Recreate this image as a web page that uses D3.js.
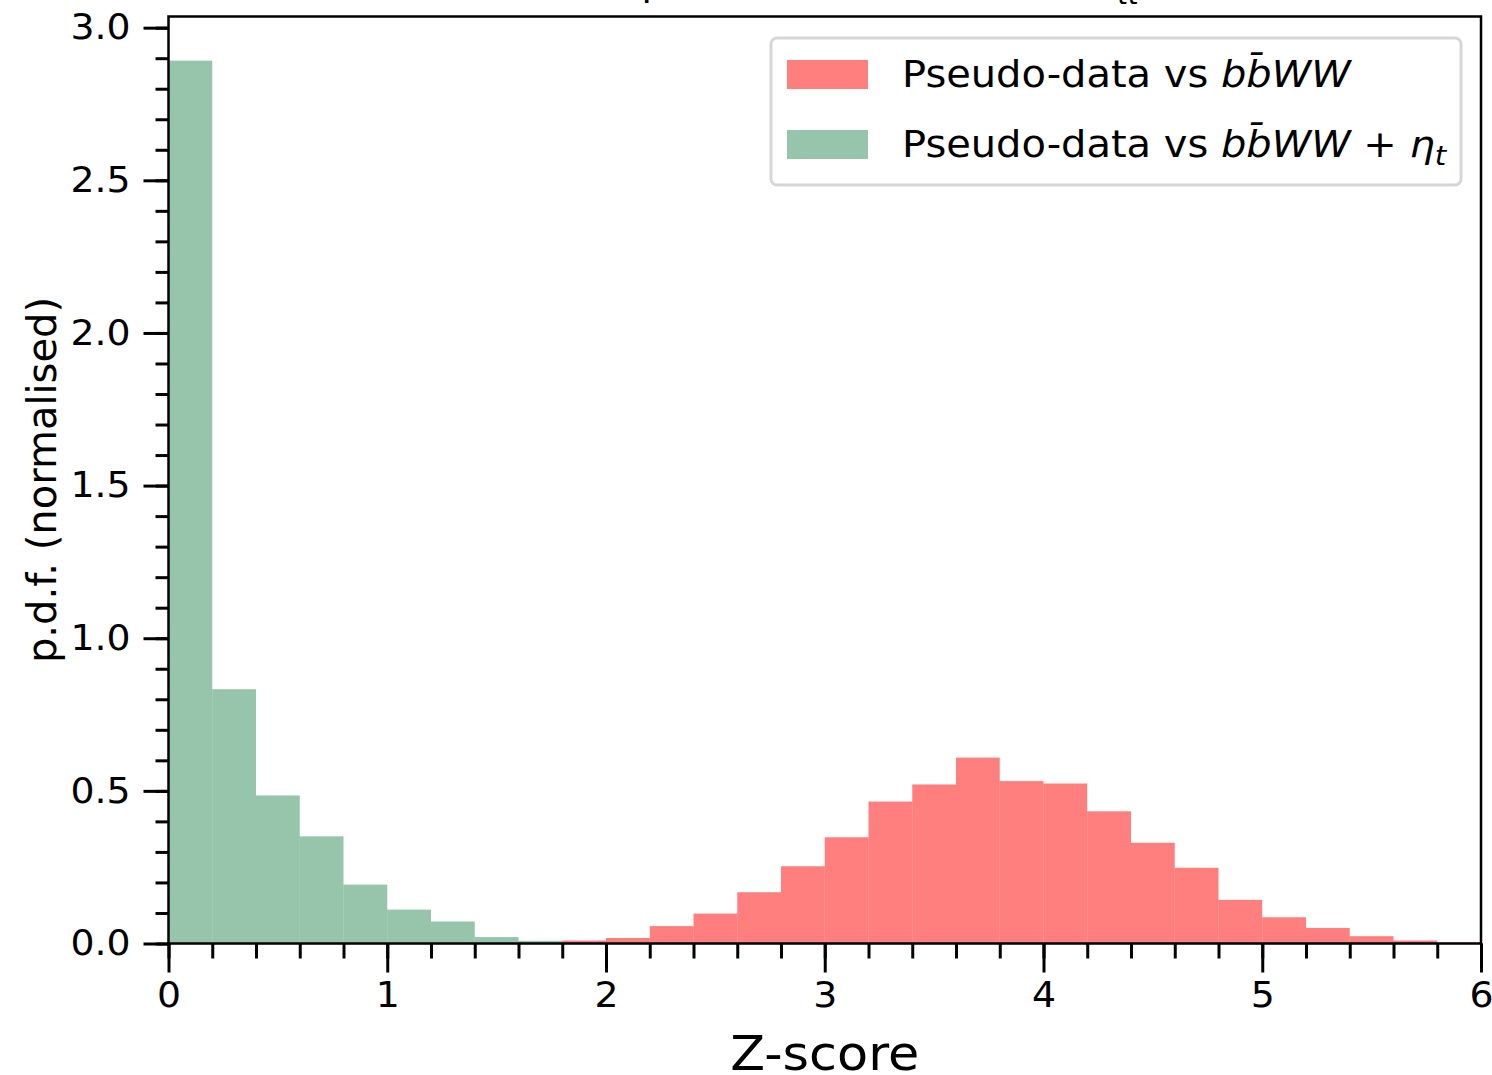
<!DOCTYPE html>
<html>
<head>
<meta charset="utf-8">
<script src="https://cdn.jsdelivr.net/npm/d3@7"></script>
<style>
  body { margin: 0; background: #fff; }
  text { font-family: "DejaVu Sans", sans-serif; fill: #000; }
</style>
</head>
<body>
<div id="okvir"></div>
<script>
// bin edges: 0 .. 6 step 0.2
const binStarts = [0, 0.2, 0.4, 0.6, 0.8, 1.0, 1.2, 1.4, 1.6, 1.8, 2.0, 2.2, 2.4, 2.6, 2.8,
  3.0, 3.2, 3.4, 3.6, 3.8, 4.0, 4.2, 4.4, 4.6, 4.8, 5.0, 5.2, 5.4, 5.6, 5.8];
const binWidth = 0.2;

// Pseudo-data vs bbWW (red)
const redValues = [0, 0, 0, 0, 0, 0, 0, 0, 0.002, 0.0098, 0.018, 0.057, 0.098, 0.168, 0.253,
  0.348, 0.465, 0.521, 0.609, 0.532, 0.524, 0.433, 0.330, 0.248, 0.143, 0.086, 0.051, 0.024, 0.0098, 0.003];

// Pseudo-data vs bbWW + eta_t (green)
const greenValues = [2.892, 0.833, 0.485, 0.351, 0.193, 0.111, 0.072, 0.021, 0.0088, 0.002, 0, 0, 0, 0, 0,
  0, 0, 0, 0, 0, 0, 0, 0, 0, 0, 0, 0, 0, 0, 0];

const xTicks = [0, 1, 2, 3, 4, 5, 6];
const yTicks = [0, 0.5, 1.0, 1.5, 2.0, 2.5, 3.0];

const sx = 1.08; // horizontal stretch of text seen in the reference

function crtaj() {
  const dim = {
    sirina: 1492,
    visina: 1075,
    margine: { top: 16.5, right: 11, bottom: 131.5, left: 168.5 }
  };
  dim.grSirina = dim.sirina - dim.margine.left - dim.margine.right;
  dim.grVisina = dim.visina - dim.margine.top - dim.margine.bottom;

  const yMax = d3.max(greenValues) * 1.05;

  const x = d3.scaleLinear().domain([0, 6]).range([0, dim.grSirina]);
  const y = d3.scaleLinear().domain([0, yMax]).range([dim.grVisina, 0]);

  const svg = d3.select("#okvir").append("svg")
    .attr("width", dim.sirina)
    .attr("height", dim.visina);

  // title, mostly cut off above the canvas
  const naslov = svg.append("text")
    .attr("x", dim.margine.left + dim.grSirina / 2 + 22)
    .attr("y", -5)
    .attr("text-anchor", "middle")
    .style("font-size", "38px");
  naslov.append("tspan").text("Comparison of Z-scores for ");
  naslov.append("tspan").style("font-style", "italic").text("m");
  naslov.append("tspan").attr("dy", 9).style("font-size", "27px").style("font-style", "italic").text("tt");

  const g = svg.append("g")
    .attr("transform", `translate(${dim.margine.left},${dim.margine.top})`);

  const series = [
    { vals: redValues, color: "red" },
    { vals: greenValues, color: "seagreen" }
  ];

  series.forEach(s => {
    g.append("g").selectAll("rect")
      .data(binStarts.map((b, i) => ({ x0: b, v: s.vals[i] })).filter(d => d.v > 0))
      .join("rect")
        .attr("x", d => x(d.x0))
        .attr("width", d => x(d.x0 + binWidth) - x(d.x0))
        .attr("y", d => y(d.v))
        .attr("height", d => y(0) - y(d.v))
        .attr("fill", s.color)
        .attr("fill-opacity", 0.5);
  });

  // axes
  const xMajor = d3.axisBottom(x).tickValues(xTicks).tickFormat(d3.format("d"))
    .tickSize(29).tickPadding(10);
  const xMinor = d3.axisBottom(x).tickValues(d3.range(0, 6.01, 0.2)).tickFormat("")
    .tickSize(15);
  const yMajor = d3.axisLeft(y).tickValues(yTicks).tickFormat(d3.format(".1f"))
    .tickSize(25).tickPadding(13);
  const yMinor = d3.axisLeft(y).tickValues(d3.range(0, 3.01, 0.1)).tickFormat("")
    .tickSize(13);

  [xMinor, xMajor].forEach(a => {
    g.append("g").attr("transform", `translate(0,${dim.grVisina})`).call(a)
      .call(sel => sel.select(".domain").remove())
      .call(sel => sel.selectAll("line").attr("stroke", "#000").attr("stroke-width", 3))
      .call(sel => sel.selectAll("text").style("font-size", "35px")
        .attr("transform", `scale(${sx},1)`));
  });
  [yMinor, yMajor].forEach(a => {
    g.append("g").call(a)
      .call(sel => sel.select(".domain").remove())
      .call(sel => sel.selectAll("line").attr("stroke", "#000").attr("stroke-width", 3))
      .call(sel => sel.selectAll("text").style("font-size", "35px")
        .attr("x", -38 / sx)
        .attr("transform", `scale(${sx},1)`));
  });

  // frame
  g.append("rect")
    .attr("width", dim.grSirina)
    .attr("height", dim.grVisina)
    .attr("fill", "none")
    .attr("stroke", "#000")
    .attr("stroke-width", 2.5);

  // axis labels
  svg.append("text")
    .attr("transform", `translate(${dim.margine.left + dim.grSirina / 2},1070) scale(1.06,1)`)
    .attr("text-anchor", "middle")
    .style("font-size", "48px")
    .text("Z-score");

  svg.append("text")
    .attr("transform", `translate(56,${dim.margine.top + dim.grVisina / 2}) rotate(-90)`)
    .attr("text-anchor", "middle")
    .style("font-size", "40px")
    .text("p.d.f. (normalised)");

  // legend
  const leg = svg.append("g").attr("transform", "translate(771,38)");
  leg.append("rect")
    .attr("width", 690).attr("height", 147)
    .attr("rx", 6)
    .attr("fill", "#fff").attr("fill-opacity", 0.8)
    .attr("stroke", "#d6d6d6").attr("stroke-width", 3);

  const items = [
    { color: "red", eta: false },
    { color: "seagreen", eta: true }
  ];
  items.forEach((it, i) => {
    const yy = 22 + i * 70;
    leg.append("rect")
      .attr("x", 16).attr("y", yy)
      .attr("width", 81).attr("height", 29)
      .attr("fill", it.color).attr("fill-opacity", 0.5);
    const t = leg.append("text")
      .attr("transform", `translate(131,${yy + 27}) scale(${sx},1)`)
      .style("font-size", "37px");
    t.append("tspan").text("Pseudo-data vs ");
    t.append("tspan").style("font-style", "italic").text("bb\u0304WW");
    if (it.eta) {
      t.append("tspan").text(" + ");
      t.append("tspan").style("font-style", "italic").text("\u03b7");
      t.append("tspan").style("font-style", "italic").style("font-size", "27px")
        .attr("dy", 8).text("t");
    }
  });
}

crtaj();
</script>
</body>
</html>
